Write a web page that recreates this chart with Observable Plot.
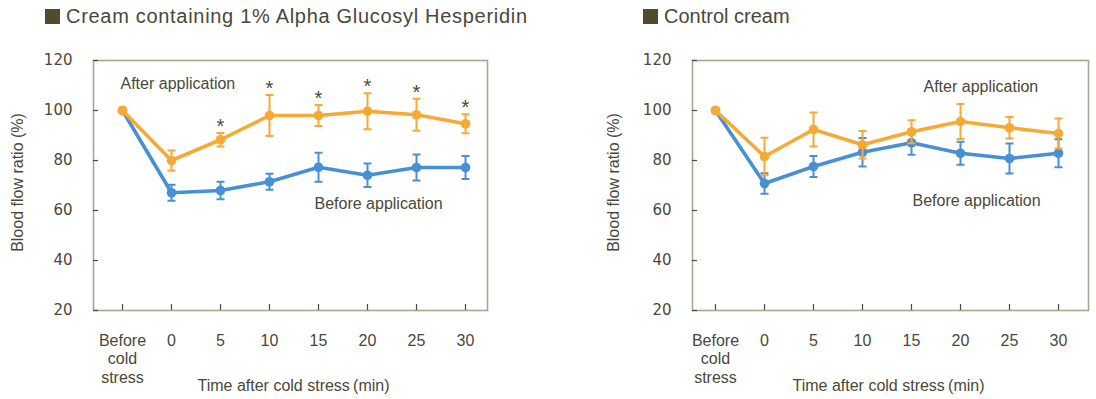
<!DOCTYPE html>
<html>
<head>
<meta charset="utf-8">
<script src="https://cdn.jsdelivr.net/npm/d3@7"></script>
<script src="https://cdn.jsdelivr.net/npm/@observablehq/plot@0.6"></script>
<style>
  body { margin: 0; background: #ffffff; }
  #wrap { position: relative; width: 1096px; height: 399px; overflow: hidden;
          font-family: "Liberation Sans", Arial, "Noto Sans CJK JP", sans-serif; color: #4a4838; }
  .sq { position: absolute; top: 9px; width: 15px; height: 15px; background: #4f4b2d; }
  .title { position: absolute; top: 6px; font-size: 20px; line-height: 20px; white-space: nowrap; color: #4a4838; }
  .chart { position: absolute; top: 40px; }
  .chart svg { overflow: visible; }
</style>
</head>
<body>
<div id="wrap">
  <div class="sq" style="left:45px"></div>
  <div class="title" style="left:66px; letter-spacing:0.7px">Cream containing 1% Alpha Glucosyl Hesperidin</div>
  <div class="sq" style="left:643px"></div>
  <div class="title" style="left:664px">Control cream</div>
  <div class="chart" id="left" style="left:0px"></div>
  <div class="chart" id="right" style="left:548px"></div>
</div>
<script>
// ---- data ----
const categories = ["Before cold stress", "0", "5", "10", "15", "20", "25", "30"];
const tickLabels = ["Before\ncold\nstress", "0", "5", "10", "15", "20", "25", "30"];
const yTicks = [20, 40, 60, 80, 100, 120];

const hespAfter      = [100, 80.0, 88.3, 98.0, 98.0, 99.7, 98.3, 94.7];
const hespAfterErr   = [0,   4.0,  2.7,  8.2,  4.2,  7.2,  6.4,  3.8];
const hespBefore     = [100, 67.1, 68.0, 71.5, 77.3, 74.1, 77.2, 77.2];
const hespBeforeErr  = [0,   3.2,  3.5,  3.2,  5.8,  4.7,  5.2,  4.6];
const hespSignificant = [false, false, true, true, true, true, true, true];

const ctrlAfter      = [100, 81.6, 92.4, 86.3, 91.5, 95.6, 93.1, 90.8];
const ctrlAfterErr   = [0,   7.5,  6.8,  5.5,  4.6,  7.0,  4.3,  6.0];
const ctrlBefore     = [100, 70.8, 77.6, 83.3, 87.1, 82.9, 80.8, 82.9];
const ctrlBeforeErr  = [0,   4.1,  4.2,  5.7,  4.8,  4.6,  6.0,  5.6];
const ctrlSignificant = [false, false, false, false, false, false, false, false];

const seriesNames = ["After application", "Before application"];

// ---- styles ----
const ORANGE = "#f7a936";
const BLUE = "#4690d5";
const TEXT = "#4a4838";
const FRAME = "#a8a590";
const labelMap = new Map(categories.map((c, i) => [c, tickLabels[i]]));
const capSymbol = {draw(ctx) { ctx.moveTo(-4, 0); ctx.lineTo(4, 0); }};

function rows(vals, errs, sig) {
  return categories.map((c, i) => ({x: c, y: vals[i], e: errs[i], lo: vals[i] - errs[i], hi: vals[i] + errs[i], sig: sig ? sig[i] : false}));
}

function makeChart(el, cfg) {
  const after = rows(cfg.after, cfg.afterErr, cfg.sig);
  const before = rows(cfg.before, cfg.beforeErr, null);
  const W = 548, H = 359;
  const innerW = W - cfg.marginLeft - cfg.marginRight;
  const innerH = H - 20 - 89;
  const series = (data, color) => {
    const withErr = data.filter(d => d.e > 0);
    return [
      Plot.line(data, {x: "x", y: "y", stroke: color, strokeWidth: 3.6}),
      Plot.ruleX(withErr, {x: "x", y1: "lo", y2: "hi", stroke: color, strokeWidth: 2}),
      Plot.dot(withErr, {x: "x", y: "lo", symbol: capSymbol, stroke: color, strokeWidth: 2, fill: "none"}),
      Plot.dot(withErr, {x: "x", y: "hi", symbol: capSymbol, stroke: color, strokeWidth: 2, fill: "none"}),
      Plot.dot(data, {x: "x", y: "y", fill: color, r: 4.8})
    ];
  };
  const noteMarks = cfg.notes.map(n =>
    Plot.text([n], {x: "x", y: "y", text: "text", textAnchor: "start", dx: n.dx, fontSize: 16, fontFamily: "Liberation Sans", fill: TEXT, lineAnchor: "middle"})
  );
  const chart = Plot.plot({
    width: W, height: H,
    marginLeft: cfg.marginLeft, marginRight: cfg.marginRight, marginTop: 20, marginBottom: 89,
    style: {background: "transparent", color: TEXT},
    x: {type: "point", domain: categories, range: cfg.xRange, padding: 0},
    y: {domain: [20, 120]},
    marks: [
      Plot.frame({stroke: FRAME, strokeWidth: 1.6}),
      Plot.tickY(yTicks, {y: d => d, stroke: TEXT, strokeWidth: 1.2, insetRight: innerW - 5}),
      Plot.tickX(categories, {x: d => d, stroke: TEXT, strokeWidth: 1.2, insetTop: innerH - 6}),
      Plot.axisY({ticks: yTicks, tickSize: 0, tickPadding: 21, fontSize: 15, fontFamily: "DejaVu Sans", label: null, color: TEXT}),
      Plot.axisX({tickSize: 0, tickPadding: 22, fontSize: 16, lineHeight: 1.16, fontFamily: "Liberation Sans", tickFormat: d => labelMap.get(d), label: null, color: TEXT}),
      Plot.text(["Blood flow ratio (%)"], {frameAnchor: "left", textAnchor: "middle", rotate: -90, dx: cfg.yLabelDx, dy: -3, fontSize: 16, fontFamily: "Liberation Sans", fill: TEXT}),
      Plot.text(["Time after cold stress\u2009(min)"], {frameAnchor: "bottom", dx: cfg.xLabelDx, dy: 80, fontSize: 16, fontFamily: "Liberation Sans", fill: TEXT}),
      ...series(before, BLUE),
      ...series(after, ORANGE),
      Plot.text(after.filter(d => d.sig), {x: "x", y: "hi", text: () => "*", lineAnchor: "bottom", dy: 0, fontSize: 20, fontFamily: "Liberation Sans", fill: TEXT}),
      ...noteMarks
    ]
  });
  el.appendChild(chart);
}

makeChart(document.getElementById("left"), {
  after: hespAfter, afterErr: hespAfterErr, before: hespBefore, beforeErr: hespBeforeErr, sig: hespSignificant,
  marginLeft: 93, marginRight: 61, xRange: [119, 468], yLabelDx: -76, xLabelDx: 3,
  notes: [
    {text: seriesNames[0], x: "Before cold stress", y: 110.8, dx: -2},
    {text: seriesNames[1], x: "15", y: 62.8, dx: -4}
  ]
});
makeChart(document.getElementById("right"), {
  after: ctrlAfter, afterErr: ctrlAfterErr, before: ctrlBefore, beforeErr: ctrlBeforeErr, sig: ctrlSignificant,
  marginLeft: 144, marginRight: 8, xRange: [164, 513], yLabelDx: -79, xLabelDx: -2,
  notes: [
    {text: seriesNames[0], x: "15", y: 109.6, dx: 12},
    {text: seriesNames[1], x: "15", y: 64, dx: 1}
  ]
});
</script>
</body>
</html>
